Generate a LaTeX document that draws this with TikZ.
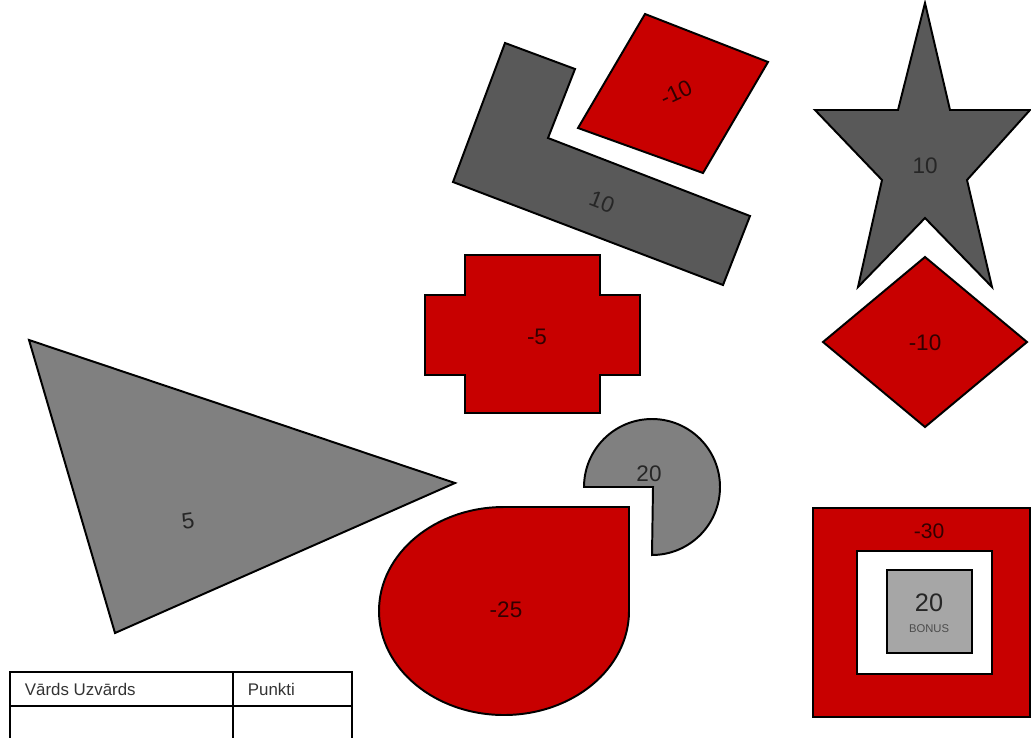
\documentclass[tikz,border=0pt]{standalone}
\usepackage{fontspec}
\setmainfont{Liberation Sans}
\definecolor{shapered}{RGB}{200,0,0}
\definecolor{darkgrey}{RGB}{89,89,89}
\definecolor{midgrey}{RGB}{128,128,128}
\definecolor{lightgrey}{RGB}{166,166,166}
\begin{document}
\begin{tikzpicture}[x=0.025cm,y=-0.025cm,
    piece/.style={draw=black, line width=1.4pt, line join=miter},
    score/.style={font=\fontsize{16}{18}\selectfont, text=black!85, inner sep=0pt},
    redscore/.style={score, text=black!75!shapered}]
    \clip (0,0) rectangle (1031,737);
    % L piece and tilted tile
    \filldraw[piece, fill=darkgrey] (505,43) -- (575,69) -- (548,138) -- (750,216) -- (723,285) -- (453,182) -- cycle;
    \filldraw[piece, fill=shapered] (645,14) -- (768,62) -- (703,173) -- (578,128) -- cycle;
    \node[score, rotate=-21] (lscore) at (602,202) {10};
    \node[redscore, rotate=25] (tilescore) at (676,93) {-10};
    % star and diamond
    \filldraw[piece, fill=darkgrey] (925,3) -- (950,110) -- (1030,110) -- (967,180) -- (992,287)
        -- (925,218) -- (858,287) -- (882,180) -- (815,110) -- (898,110) -- cycle;
    \filldraw[piece, fill=shapered] (925,257) -- (1027,342) -- (925,427) -- (823,342) -- cycle;
    \node[score] (starscore) at (925,166) {10};
    \node[redscore] (diamondscore) at (925,343) {-10};
    % cross
    \filldraw[piece, fill=shapered] (465,255) -- (600,255) -- (600,295) -- (640,295) -- (640,375) -- (600,375)
        -- (600,413) -- (465,413) -- (465,375) -- (425,375) -- (425,295) -- (465,295) -- cycle;
    \node[redscore] (crossscore) at (537,337) {-5};
    % triangle
    \filldraw[piece, fill=midgrey] (29,340) -- (455,483) -- (115,633) -- cycle;
    \node[score, rotate=8] (trianglescore) at (188,521) {5};
    % pie and drop
    \filldraw[piece, fill=midgrey] (653,487) -- (584,487) arc[start angle=180, end angle=450, radius=68] -- cycle;
    \node[score] (piescore) at (649,474) {20};
    \filldraw[piece, fill=shapered] (629,507) -- (629,611) arc[start angle=0, end angle=270, x radius=125, y radius=104] -- cycle;
    \node[redscore] (dropscore) at (506,610) {-25};
    % bonus target
    \filldraw[piece, fill=shapered] (813,508) rectangle (1030,717);
    \filldraw[piece, fill=white] (857,551) rectangle (992,674);
    \filldraw[piece, fill=lightgrey] (887,570) rectangle (972,653);
    \node[redscore, font=\fontsize{15}{17}\selectfont] (outerscore) at (929,531) {-30};
    \node[score, font=\fontsize{18}{20}\selectfont] (bonusscore) at (929,603) {20};
    \node[score, font=\fontsize{8}{9}\selectfont, text=black!70] (bonuslabel) at (929,629) {BONUS};
    % score table
    \draw[line width=1.4pt] (10,672) rectangle (352,760);
    \draw[line width=0.9pt] (10,706) -- (352,706) (233,672) -- (233,760);
    \node[anchor=west, font=\fontsize{12}{14}\selectfont, text=black!80] (namehead) at (20,689) {Vārds Uzvārds};
    \node[anchor=west, font=\fontsize{12}{14}\selectfont, text=black!80] (pointshead) at (243,689) {Punkti};
\end{tikzpicture}
\end{document}
